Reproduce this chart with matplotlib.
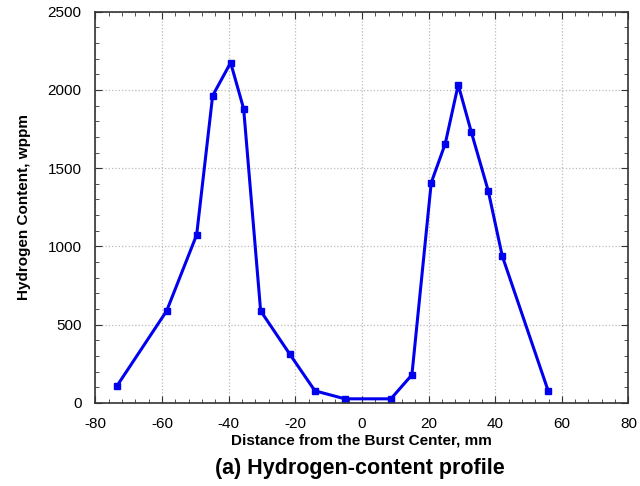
import numpy as np
import matplotlib.pyplot as plt
from matplotlib.ticker import MultipleLocator

# Datos
distancia = [-73.5, -58.6, -49.6, -44.8, -39.4, -35.5, -30.4, -21.7, -14.1, -5.1,
             8.7, 15.0, 20.8, 25.0, 28.9, 32.8, 37.9, 42.1, 55.9]
hidrogeno = [109, 588, 1074, 1963, 2174, 1880, 588, 313, 77, 26,
             26, 179, 1407, 1656, 2033, 1733, 1356, 940, 77]

plt.rcParams['font.family'] = ['Liberation Sans', 'DejaVu Sans']
plt.rcParams['axes.unicode_minus'] = False

fig = plt.figure(figsize=(6.4, 4.86), dpi=100)
ax = fig.add_axes([0.149, 0.171, 0.833, 0.805])

ax.plot(distancia, hidrogeno, color='#0000ee', lw=2.2, marker='s', ms=5)

ax.set_xlim(-80, 80)
ax.set_ylim(0, 2500)
ax.xaxis.set_major_locator(MultipleLocator(20))
ax.xaxis.set_minor_locator(MultipleLocator(4))
ax.yaxis.set_major_locator(MultipleLocator(500))
ax.yaxis.set_minor_locator(MultipleLocator(100))
ax.tick_params(which='both', direction='in', top=True, right=True, colors='#333333',
               labelcolor='black', labelsize=11)
ax.tick_params(which='major', length=5)
ax.tick_params(which='minor', length=3)
ax.tick_params(axis='x', which='major', pad=10)
ax.tick_params(axis='y', which='major', pad=10)
for s in ax.spines.values():
    s.set_color('#333333')
    s.set_linewidth(1.2)

ax.grid(True, which='major', linestyle=':', color='#bbbbbb', lw=0.9)

ax.set_xlabel('Distance from the Burst Center, mm', fontsize=11, fontweight='bold', labelpad=2)
ax.set_ylabel('Hydrogen Content, wppm', fontsize=11, fontweight='bold', labelpad=12)
fig.text(0.563, 0.037, '(a) Hydrogen-content profile', ha='center', va='center',
         fontsize=15.5, fontweight='bold')

fig.savefig('out.png', dpi=100)
